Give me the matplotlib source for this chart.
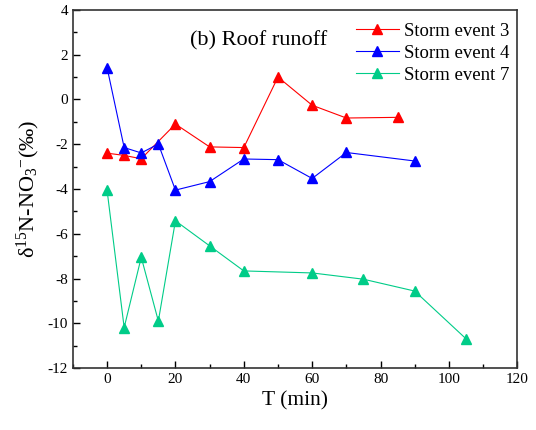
import matplotlib.pyplot as plt
import numpy as np
from matplotlib.ticker import MultipleLocator

plt.rcParams['font.family'] = ['Liberation Serif', 'DejaVu Serif']
plt.rcParams['mathtext.fontset'] = 'custom'
plt.rcParams['mathtext.rm'] = 'Liberation Serif'
plt.rcParams['mathtext.it'] = 'Liberation Serif:italic'
plt.rcParams['axes.unicode_minus'] = False

# storm event 3
t3 = [0, 5, 10, 20, 30, 40, 50, 60, 70, 85]
d3 = [-2.4, -2.5, -2.65, -1.1, -2.12, -2.15, 1.0, -0.26, -0.83, -0.8]
# storm event 4
t4 = [0, 5, 10, 15, 20, 30, 40, 50, 60, 70, 90]
d4 = [1.42, -2.15, -2.39, -1.99, -4.05, -3.67, -2.66, -2.69, -3.53, -2.37, -2.75]
# storm event 7
t7 = [0, 5, 10, 15, 20, 30, 40, 60, 75, 90, 105]
d7 = [-4.06, -10.19, -7.05, -9.9, -5.42, -6.54, -7.66, -7.75, -8.03, -8.56, -10.69]

fig = plt.figure(figsize=(5.36, 4.30), dpi=100)
ax = fig.add_axes([0.136, 0.144, 0.829, 0.833])

ax.plot(t3, d3, '-^', color='#ff0000', lw=0.8, ms=7, label='Storm event 3')
ax.plot(t4, d4, '-^', color='#0000ff', lw=0.8, ms=7, label='Storm event 4')
ax.plot(t7, d7, '-^', color='#00cc88', lw=0.8, ms=7, label='Storm event 7')

ax.set_xlim(-10, 120)
ax.set_ylim(-12, 4)
ax.xaxis.set_major_locator(MultipleLocator(20))
ax.xaxis.set_minor_locator(MultipleLocator(10))
ax.yaxis.set_major_locator(MultipleLocator(2))
ax.yaxis.set_minor_locator(MultipleLocator(1))
ax.tick_params(which='both', direction='in', top=False, right=False, labelsize=11)
ax.tick_params(which='major', length=5, width=1)
ax.tick_params(which='minor', length=3, width=1)
for s in ax.spines.values():
    s.set_linewidth(1.2)
    s.set_color('#333333')

ax.set_xlabel('T (min)', fontsize=15.5)
ax.set_ylabel(r'$\mathrm{\delta}^{15}$N-NO$_3$$^{-}$(‰)', fontsize=16)
ax.text(0.264, 0.915, '(b) Roof runoff', transform=ax.transAxes, fontsize=16, va='center')

ax.legend(loc='upper right', frameon=False, fontsize=13.5, handlelength=2.3,
          handletextpad=0.3, labelspacing=0.25, borderaxespad=0.0,
          bbox_to_anchor=(1.0, 0.985))

fig.savefig('out.png', dpi=100)
